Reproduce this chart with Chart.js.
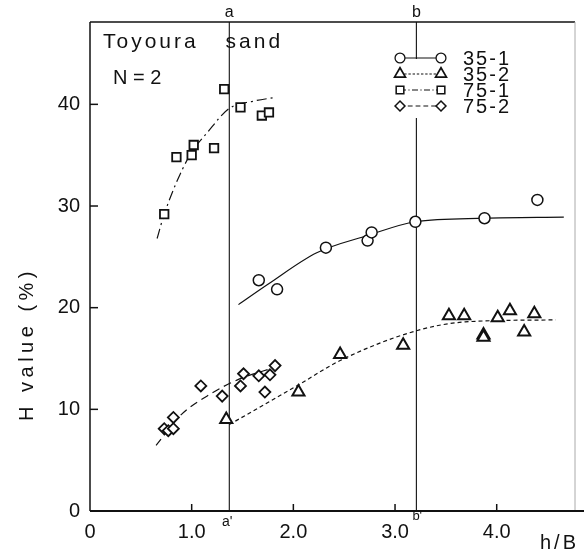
<!DOCTYPE html>
<html>
<head>
<meta charset="utf-8">
<script src="https://cdn.jsdelivr.net/npm/chart.js@4/dist/chart.umd.min.js"></script>
<style>
  html, body { margin: 0; padding: 0; background: #fff; }
  canvas { display: block; }
</style>
</head>
<body>
<canvas id="chart" width="584" height="556"></canvas>
<script>
// H value (%) against embedment ratio h/B, Toyoura sand, N = 2

const xTicks = [0, 1, 2, 3, 4];
const xTickLabels = ['0', '1.0', '2.0', '3.0', '4.0'];
const yTicks = [0, 10, 20, 30, 40];
const seriesNames = ['35-1', '35-2', '75-1', '75-2'];

// measured points
const hb35_1 = [1.66, 1.84, 2.32, 2.73, 2.77, 3.20, 3.88, 4.40];
const h35_1  = [22.7, 21.8, 25.9, 26.6, 27.4, 28.45, 28.8, 30.6];

const hb35_2 = [1.34, 2.05, 2.46, 3.08, 3.53, 3.68, 3.87, 3.87, 4.01, 4.13, 4.27, 4.37];
const h35_2  = [9.0, 11.7, 15.4, 16.3, 19.2, 19.2, 17.3, 17.1, 19.0, 19.7, 17.6, 19.4];

const hb75_1 = [0.73, 0.85, 1.00, 1.02, 1.22, 1.32, 1.48, 1.69, 1.76];
const h75_1  = [29.2, 34.8, 35.0, 36.0, 35.7, 41.5, 39.7, 38.9, 39.2];

const hb75_2 = [0.73, 0.77, 0.82, 0.82, 1.09, 1.30, 1.48, 1.51, 1.66, 1.72, 1.77, 1.82];
const h75_2  = [8.1, 7.9, 8.1, 9.2, 12.3, 11.3, 12.3, 13.5, 13.3, 11.7, 13.4, 14.3];

// fitted trend curves
const fitHb35_1 = [1.46, 1.75, 2.23, 2.73, 3.20, 3.88, 4.66];
const fitH35_1  = [20.3, 22.3, 25.4, 27.1, 28.45, 28.8, 28.9];

const fitHb35_2 = [1.37, 2.05, 2.46, 3.20, 3.69, 4.58];
const fitH35_2  = [8.5, 12.4, 14.8, 17.7, 18.6, 18.8];

const fitHb75_1 = [0.66, 0.73, 0.97, 1.16, 1.37, 1.60, 1.83];
const fitH75_1  = [26.8, 29.2, 34.8, 37.3, 39.6, 40.3, 40.7];

const fitHb75_2 = [0.65, 0.90, 1.20, 1.45, 1.84];
const fitH75_2  = [6.45, 9.5, 11.6, 12.9, 14.2];

// reference embedment ratios a-a' and b-b'
const refHb = [1.37, 3.21];
const refTopLabels = ['a', 'b'];
const refBottomLabels = ["a'", "b'"];

const ink = '#111';
const FONT = '"Liberation Sans", Arial, sans-serif';

const toPts = (xs, ys) => xs.map((v, i) => ({ x: v, y: ys[i] }));

const series = [
  { label: seriesNames[0], xs: hb35_1, ys: h35_1, fx: fitHb35_1, fy: fitH35_1,
    style: 'circle', r: 5.5, bw: 1.5, dash: [] },
  { label: seriesNames[1], xs: hb35_2, ys: h35_2, fx: fitHb35_2, fy: fitH35_2,
    style: 'triangle', r: 7, bw: 2, dash: [4, 3] },
  { label: seriesNames[2], xs: hb75_1, ys: h75_1, fx: fitHb75_1, fy: fitH75_1,
    style: 'rect', r: 6, bw: 1.8, dash: [10, 4, 2, 4] },
  { label: seriesNames[3], xs: hb75_2, ys: h75_2, fx: fitHb75_2, fy: fitH75_2,
    style: 'rectRot', r: 5.5, bw: 1.8, dash: [8, 5] }
];

const datasets = [];
series.forEach(s => {
  datasets.push({
    label: s.label + ' fit',
    data: toPts(s.fx, s.fy),
    showLine: true,
    borderColor: ink,
    borderWidth: 1.2,
    borderDash: s.dash,
    cubicInterpolationMode: 'monotone',
    pointRadius: 0,
    order: 2
  });
});
series.forEach(s => {
  datasets.push({
    label: s.label,
    data: toPts(s.xs, s.ys),
    showLine: false,
    pointStyle: s.style,
    pointRadius: s.r,
    pointBorderWidth: s.bw,
    pointBorderColor: ink,
    pointBackgroundColor: '#fff',
    order: 1
  });
});

function setFont(ctx, size, spacing) {
  ctx.font = size + 'px ' + FONT;
  ctx.letterSpacing = (spacing || 0) + 'px';
}

const decor = {
  id: 'decor',
  beforeDatasetsDraw(chart) {
    const { ctx, chartArea: a, scales: { x, y } } = chart;
    ctx.save();
    ctx.strokeStyle = ink;
    ctx.lineCap = 'butt';

    // reference verticals a-a', b-b'
    ctx.lineWidth = 1.1;
    refHb.forEach(v => {
      const px = x.getPixelForValue(v);
      ctx.beginPath();
      ctx.moveTo(px, a.top);
      ctx.lineTo(px, a.bottom);
      ctx.stroke();
    });

    // frame: top and faint right border
    ctx.lineWidth = 1.3;
    ctx.beginPath();
    ctx.moveTo(a.left, a.top);
    ctx.lineTo(a.right, a.top);
    ctx.stroke();
    ctx.strokeStyle = '#aaa';
    ctx.lineWidth = 1;
    ctx.beginPath();
    ctx.moveTo(a.right, a.top);
    ctx.lineTo(a.right, a.bottom);
    ctx.stroke();

    // axes
    ctx.strokeStyle = ink;
    ctx.lineWidth = 1.5;
    ctx.beginPath();
    ctx.moveTo(a.left, a.top);
    ctx.lineTo(a.left, a.bottom);
    ctx.stroke();
    ctx.lineWidth = 2;
    ctx.beginPath();
    ctx.moveTo(a.left, a.bottom);
    ctx.lineTo(chart.width, a.bottom);
    ctx.stroke();

    // inward tick marks
    ctx.lineWidth = 1.5;
    xTicks.slice(1).forEach(v => {
      const px = x.getPixelForValue(v);
      ctx.beginPath();
      ctx.moveTo(px, a.bottom);
      ctx.lineTo(px, a.bottom - 7);
      ctx.stroke();
    });
    yTicks.slice(1).forEach(v => {
      const py = y.getPixelForValue(v);
      ctx.beginPath();
      ctx.moveTo(a.left, py);
      ctx.lineTo(a.left + 8, py);
      ctx.stroke();
    });
    ctx.restore();
  },
  afterDraw(chart) {
    const { ctx, scales: { x } } = chart;
    ctx.save();
    ctx.fillStyle = ink;

    // labels of the reference verticals
    ctx.textAlign = 'center';
    ctx.textBaseline = 'middle';
    setFont(ctx, 16, 0);
    refHb.forEach((v, i) => {
      ctx.fillText(refTopLabels[i], x.getPixelForValue(v), 13);
    });
    setFont(ctx, 14, 0);
    ctx.fillText(refBottomLabels[0], x.getPixelForValue(refHb[0]) - 2, 522);
    ctx.textAlign = 'left';
    setFont(ctx, 13, 0);
    ctx.fillText(refBottomLabels[1], x.getPixelForValue(refHb[1]) - 4, 516);

    // annotations
    setFont(ctx, 21, 3);
    ctx.wordSpacing = '18px';
    ctx.textAlign = 'left';
    ctx.fillText('Toyoura sand', 103, 42);
    ctx.wordSpacing = '0px';
    setFont(ctx, 20, 0);
    ctx.fillText('N = 2', 113, 78);

    // axis titles
    setFont(ctx, 20, 3);
    ctx.fillText('h/B', 540, 543);
    ctx.save();
    ctx.translate(27, 344);
    ctx.rotate(-Math.PI / 2);
    ctx.textAlign = 'center';
    setFont(ctx, 20, 4.5);
    ctx.fillText('H value (%)', 0, 0);
    ctx.restore();

    // legend
    const rows = [58, 74, 90, 106];
    const x1 = 400, x2 = 441, tx = 463;
    ctx.fillStyle = '#fff';
    ctx.fillRect(392, rows[0] + 1, 130, rows[3] - rows[0] + 11);
    const ptSets = chart.data.datasets.filter(d => !d.showLine);
    const lineSets = chart.data.datasets.filter(d => d.showLine);
    ptSets.forEach((d, i) => {
      const yy = rows[i];
      const ld = lineSets[i];
      ctx.strokeStyle = ink;
      ctx.lineWidth = 1.2;
      ctx.setLineDash(ld.borderDash.map(v => v * 0.6));
      ctx.beginPath();
      ctx.moveTo(x1, yy);
      ctx.lineTo(x2, yy);
      ctx.stroke();
      ctx.setLineDash([]);
      [x1, x2].forEach(px => {
        ctx.fillStyle = '#fff';
        ctx.strokeStyle = ink;
        ctx.lineWidth = d.pointBorderWidth * 0.85;
        Chart.helpers.drawPoint(ctx, {
          pointStyle: d.pointStyle,
          radius: d.pointRadius * 0.9,
          rotation: 0,
          borderWidth: d.pointBorderWidth * 0.85
        }, px, yy);
      });
      ctx.fillStyle = ink;
      setFont(ctx, 20, 2);
      ctx.textAlign = 'left';
      ctx.textBaseline = 'middle';
      ctx.fillText(d.label, tx, yy + 1);
    });
    ctx.restore();
  }
};

new Chart(document.getElementById('chart'), {
  type: 'scatter',
  data: { datasets },
  options: {
    responsive: false,
    animation: false,
    layout: { padding: { top: 22, right: 3, left: 0, bottom: 0 } },
    plugins: { legend: { display: false }, tooltip: { enabled: false } },
    scales: {
      x: {
        type: 'linear',
        min: 0,
        max: 4.77,
        grid: { display: false, drawTicks: false },
        border: { display: false },
        afterBuildTicks: s => { s.ticks = xTicks.map(v => ({ value: v })); },
        afterFit: s => { s.height = 45; },
        ticks: {
          padding: 9,
          color: ink,
          font: { family: FONT, size: 20 },
          callback: v => xTickLabels[xTicks.indexOf(v)]
        }
      },
      y: {
        type: 'linear',
        min: 0,
        max: 48.1,
        grid: { display: false, drawTicks: false },
        border: { display: false },
        afterBuildTicks: s => { s.ticks = yTicks.map(v => ({ value: v })); },
        afterFit: s => { s.width = 90; },
        ticks: {
          padding: 10,
          color: ink,
          font: { family: FONT, size: 20 },
          callback: v => String(v)
        }
      }
    }
  },
  plugins: [decor]
});
</script>
</body>
</html>
